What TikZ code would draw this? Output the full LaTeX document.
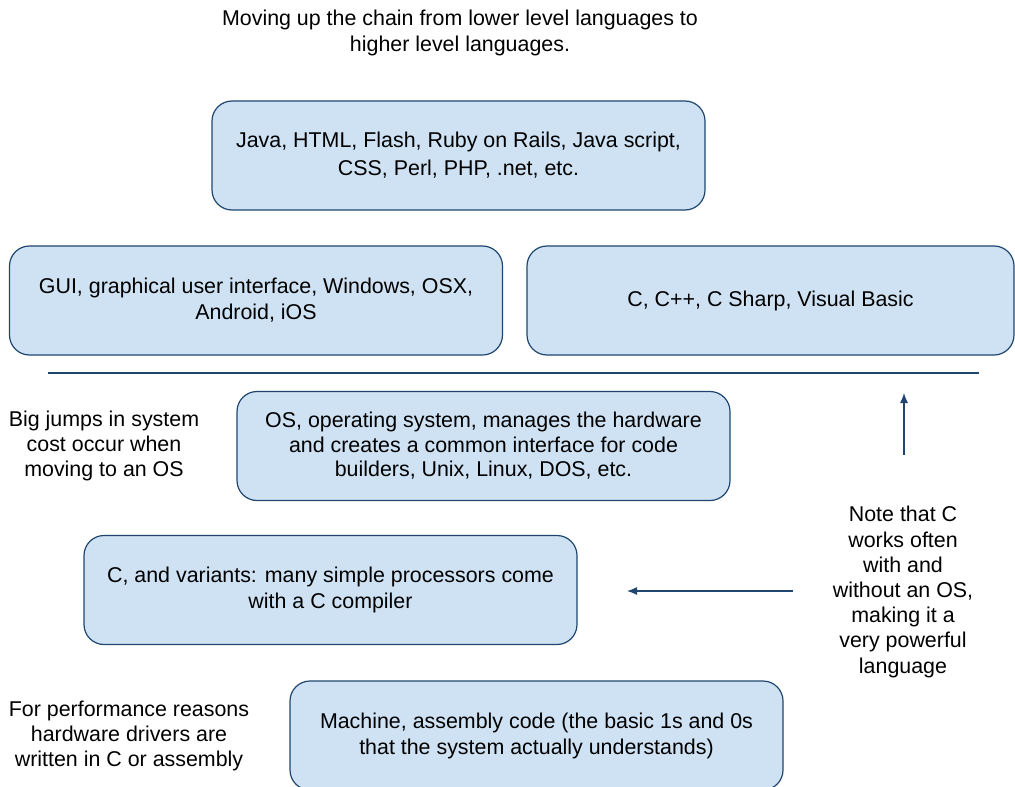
\documentclass[tikz,border=0pt]{standalone}
\usepackage{fontspec}
\setmainfont{Liberation Sans}
\usetikzlibrary{arrows.meta}
\definecolor{boxfill}{RGB}{207,226,243}
\definecolor{boxline}{RGB}{30,70,110}
\begin{document}
\begin{tikzpicture}[x=0.5pt,y=-0.5pt,
  lbox/.style={draw=boxline, fill=boxfill, line width=0.6pt, rounded corners=10pt,
    minimum width=246.5pt, minimum height=54.5pt, align=center, inner sep=0pt,
    font=\fontsize{10.7}{12.2}\selectfont},
  plain/.style={align=center, inner sep=0pt, font=\fontsize{10.7}{12.6}\selectfont},
  arr/.style={draw=boxline, line width=0.6pt, -{Latex[length=5pt,width=4pt]}}]
\useasboundingbox (0,0) rectangle (1015,786);
\clip (0,0) rectangle (1015,786);
\node[plain, font=\fontsize{10.7}{13}\selectfont] (title) at (460,33) {Moving up the chain from lower level languages to\\higher level languages.};
\node[lbox, font=\fontsize{10.7}{14}\selectfont] (web) at (458.5,155.5) {Java, HTML, Flash, Ruby on Rails, Java script,\\CSS, Perl, PHP, .net, etc.};
\node[lbox, font=\fontsize{10.7}{13}\selectfont] (gui) at (256,300.5) {GUI, graphical user interface, Windows, OSX,\\Android, iOS};
\node[lbox, minimum width=243.5pt] (cpp) at (770.5,300.5) {C, C++, C Sharp, Visual Basic};
\coordinate (l1) at (48,373);
\coordinate (l2) at (979,373);
\draw[boxline, line width=0.6pt] (l1) -- (l2);
\node[lbox] (os) at (483.5,446) {OS, operating system, manages the hardware\\and creates a common interface for code\\builders, Unix, Linux, DOS, etc.};
\node[lbox, font=\fontsize{10.7}{13}\selectfont] (cvar) at (330.5,590) {C, and variants: many simple processors come\\with a C compiler};
\node[lbox, font=\fontsize{10.7}{13}\selectfont] (mach) at (536.5,735.5) {Machine, assembly code (the basic 1s and 0s\\that the system actually understands)};
\node[plain] (jumps) at (104,446) {Big jumps in system\\cost occur when\\moving to an OS};
\node[plain] (perf) at (129,736) {For performance reasons\\hardware drivers are\\written in C or assembly};
\node[plain] (note) at (903,592) {Note that C\\works often\\with and\\without an OS,\\making it a\\very powerful\\language};
\coordinate (ua1) at (904,455);
\coordinate (ua2) at (904,393);
\draw[arr] (ua1) -- (ua2);
\coordinate (la1) at (793,591);
\coordinate (la2) at (627,591);
\draw[arr] (la1) -- (la2);
\end{tikzpicture}
\end{document}
